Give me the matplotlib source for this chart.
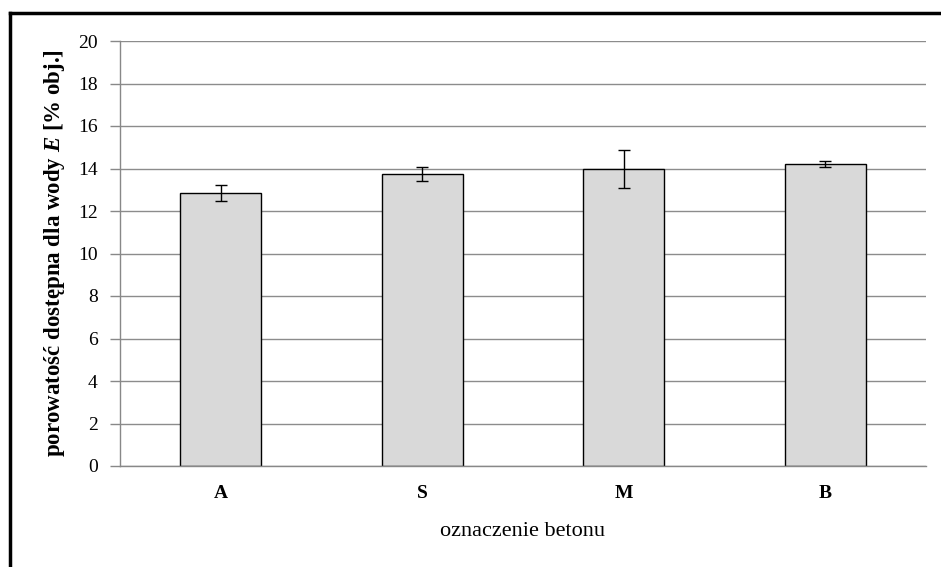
"""Accessible porosity of concrete mixes A/S/M/B with error bars."""
import numpy as np
import matplotlib
matplotlib.use("Agg")
import matplotlib.pyplot as plt
from matplotlib.lines import Line2D

categories = ["A", "S", "M", "B"]
porosity = [12.83, 13.73, 13.96, 14.20]
porosity_err = [0.38, 0.32, 0.90, 0.15]
y_ticks = [0, 2, 4, 6, 8, 10, 12, 14, 16, 18, 20]

plt.rcParams["font.family"] = ["Liberation Serif", "DejaVu Serif"]
plt.rcParams["mathtext.fontset"] = "custom"
plt.rcParams["mathtext.it"] = "Liberation Serif:italic:bold"
plt.rcParams["mathtext.rm"] = "Liberation Serif:bold"

fig = plt.figure(figsize=(9.41, 5.67), dpi=100)
ax = fig.add_axes([120 / 941, 1 - 466 / 567, 806 / 941, 425 / 567])

x = np.arange(len(categories))
ax.bar(x, porosity, width=0.4, color="#d9d9d9", edgecolor="black",
       linewidth=1.0, zorder=2)
ax.errorbar(x, porosity, yerr=porosity_err, fmt="none", ecolor="black",
            elinewidth=1.0, capsize=4.5, capthick=1.0, zorder=3)

ax.set_xlim(-0.5, len(categories) - 0.5)
ax.set_ylim(0, 20)
ax.set_yticks(y_ticks)
ax.set_yticklabels([str(t) for t in y_ticks], fontsize=14)
ax.set_xticks(x)
ax.set_xticklabels(categories, fontsize=14, fontweight="bold")
ax.tick_params(axis="x", length=0, pad=14)
ax.tick_params(axis="y", length=7, width=1, color="#888888", pad=9)

ax.yaxis.grid(True, color="#8c8c8c", linewidth=1.0, zorder=0)
ax.set_axisbelow(True)
for side in ["top", "right"]:
    ax.spines[side].set_visible(False)
for side in ["left", "bottom"]:
    ax.spines[side].set_color("#888888")
    ax.spines[side].set_linewidth(1.0)

ax.set_xlabel("oznaczenie betonu", fontsize=16, labelpad=14)
ax.set_ylabel("porowatość dostępna dla wody $E$ [% obj.]", fontsize=16.5,
              fontweight="bold", labelpad=8)

# outer frame (only left and top edges visible in the source)
fig.add_artist(Line2D([9.5 / 941, 9.5 / 941], [0, 1 - 12.5 / 567],
                      transform=fig.transFigure, color="black", linewidth=2.5))
fig.add_artist(Line2D([9.5 / 941, 1], [1 - 12.5 / 567, 1 - 12.5 / 567],
                      transform=fig.transFigure, color="black", linewidth=2.5))

fig.savefig("out.png", dpi=100)
